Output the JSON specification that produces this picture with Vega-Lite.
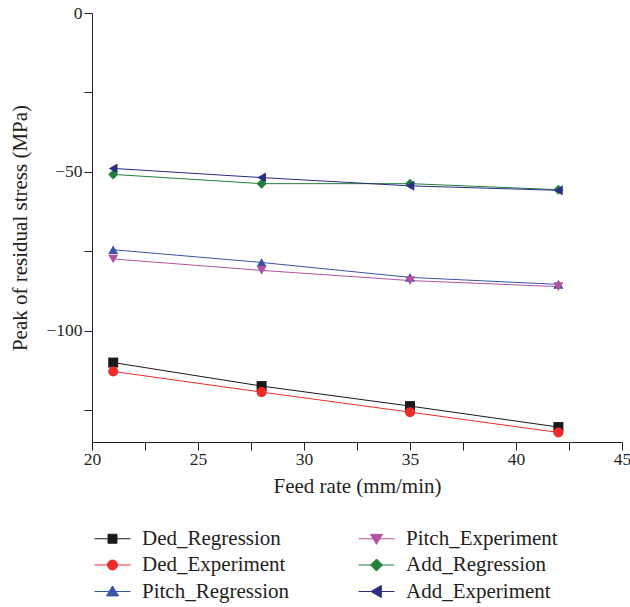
{
  "$schema": "https://vega.github.io/schema/vega-lite/v6.json",
  "width": 530,
  "height": 429,
  "autosize": {"type": "none"},
  "padding": {"left": 92, "top": 13, "right": 8, "bottom": 165},
  "config": {
    "font": "Liberation Serif",
    "view": {"stroke": null},
    "axis": {"domainColor": "#231f20", "tickColor": "#231f20", "labelColor": "#231f20", "titleColor": "#231f20", "grid": false, "labelFont": "Liberation Serif", "titleFont": "Liberation Serif", "titleFontWeight": "normal", "labelFontSize": 17.5, "titleFontSize": 21}
  },
  "data": {
    "values": [
      {"series": "Ded_Regression", "feed": 21, "stress": -110.0},
      {"series": "Ded_Regression", "feed": 28, "stress": -117.4},
      {"series": "Ded_Regression", "feed": 35, "stress": -123.7},
      {"series": "Ded_Regression", "feed": 42, "stress": -130.3},
      {"series": "Ded_Experiment", "feed": 21, "stress": -112.8},
      {"series": "Ded_Experiment", "feed": 28, "stress": -119.3},
      {"series": "Ded_Experiment", "feed": 35, "stress": -125.6},
      {"series": "Ded_Experiment", "feed": 42, "stress": -132.0},
      {"series": "Pitch_Regression", "feed": 21, "stress": -74.5},
      {"series": "Pitch_Regression", "feed": 28, "stress": -78.5},
      {"series": "Pitch_Regression", "feed": 35, "stress": -83.2},
      {"series": "Pitch_Regression", "feed": 42, "stress": -85.4},
      {"series": "Pitch_Experiment", "feed": 21, "stress": -77.4},
      {"series": "Pitch_Experiment", "feed": 28, "stress": -81.0},
      {"series": "Pitch_Experiment", "feed": 35, "stress": -84.2},
      {"series": "Pitch_Experiment", "feed": 42, "stress": -86.1},
      {"series": "Add_Regression", "feed": 21, "stress": -50.8},
      {"series": "Add_Regression", "feed": 28, "stress": -53.7},
      {"series": "Add_Regression", "feed": 35, "stress": -53.7},
      {"series": "Add_Regression", "feed": 42, "stress": -55.6},
      {"series": "Add_Experiment", "feed": 21, "stress": -48.9},
      {"series": "Add_Experiment", "feed": 28, "stress": -51.8},
      {"series": "Add_Experiment", "feed": 35, "stress": -54.4},
      {"series": "Add_Experiment", "feed": 42, "stress": -55.8}
    ]
  },
  "encoding": {
    "x": {
      "field": "feed", "type": "quantitative",
      "scale": {"domain": [20, 45], "nice": false, "zero": false},
      "axis": {
        "title": "Feed rate (mm/min)",
        "labelFont": "Liberation Serif", "titleFont": "Liberation Serif",
        "values": [20, 22.5, 25, 27.5, 30, 32.5, 35, 37.5, 40, 42.5, 45],
        "labelExpr": "datum.value % 5 === 0 ? datum.label : ''",
        "tickSize": 8, "labelPadding": 0, "titlePadding": 8, "labelFlush": false,
        "encode": {"ticks": {"update": {"y2": {"signal": "datum.value % 5 === 0 ? -8 : -5"}}}}
      }
    },
    "y": {
      "field": "stress", "type": "quantitative",
      "scale": {"domain": [-135, 0], "nice": false, "zero": false},
      "axis": {
        "title": "Peak of residual stress (MPa)",
        "labelFont": "Liberation Serif", "titleFont": "Liberation Serif",
        "values": [0, -25, -50, -75, -100, -125],
        "labelExpr": "datum.value % 50 === 0 ? datum.label : ''",
        "tickSize": 8, "labelPadding": 2, "titlePadding": 15, "labelFlush": false,
        "encode": {"ticks": {"update": {"x2": {"signal": "datum.value % 50 === 0 ? 8 : 5"}}}}
      }
    },
    "color": {
      "field": "series", "type": "nominal",
      "scale": {
        "domain": ["Ded_Regression", "Ded_Experiment", "Pitch_Regression", "Pitch_Experiment", "Add_Regression", "Add_Experiment"],
        "range": ["#1a1a1a", "#ee2a2a", "#3953a5", "#b452a0", "#23803c", "#2c2d84"]
      },
      "legend": {
        "title": null,
        "orient": "none",
        "legendX": 0,
        "legendY": 515,
        "columns": 2,
        "columnPadding": 67,
        "rowPadding": 4.5,
        "symbolSize": 256,
        "labelOffset": 29,
        "labelFontSize": 21,
        "labelFont": "Liberation Serif",
        "labelColor": "#231f20",
        "encode": {
          "symbols": {
            "update": {
              "shape": {"signal": "datum.value === 'Ded_Regression' ? 'M-1,0H3.5M0.69,-0.56H1.81V0.56H0.69Z' : datum.value === 'Ded_Experiment' ? 'M-1,0H3.5M0.625,0A0.625,0.625,0,1,0,1.875,0A0.625,0.625,0,1,0,0.625,0Z' : datum.value === 'Pitch_Regression' ? 'M-1,0H3.5M1.25,-0.7L2,0.55L0.5,0.55Z' : datum.value === 'Pitch_Experiment' ? 'M-1,0H3.5M1.25,0.7L2,-0.55L0.5,-0.55Z' : datum.value === 'Add_Regression' ? 'M-1,0H3.5M1.25,-0.75L2,0L1.25,0.75L0.5,0Z' : 'M-1,0H3.5M0.55,0L1.85,-0.75L1.85,0.75Z'"},
              "stroke": {"signal": "scale('color', datum.value)"},
              "fill": {"signal": "scale('color', datum.value)"},
              "strokeWidth": {"value": 1},
              "opacity": {"value": 1}
            }
          }
        }
      }
    }
  },
  "layer": [
    {"mark": {"type": "line", "strokeWidth": 1}},
    {
      "mark": {"type": "point", "filled": true, "size": 100, "opacity": 1},
      "encoding": {
        "shape": {
          "field": "series", "type": "nominal",
          "scale": {
            "range": ["triangle-left", "diamond", "circle", "square", "triangle-down", "triangle-up"]
          },
          "legend": null
        }
      }
    }
  ]
}
